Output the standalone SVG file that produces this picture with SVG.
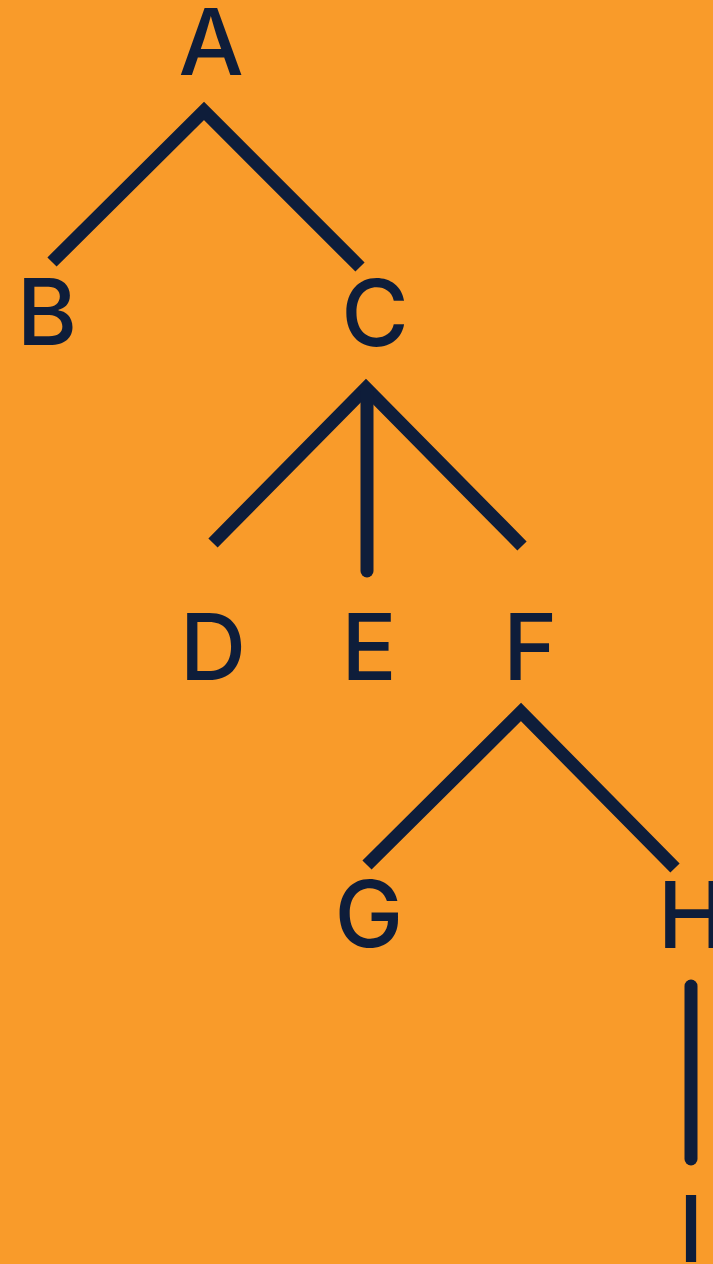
<svg xmlns="http://www.w3.org/2000/svg" width="713" height="1264" viewBox="0 0 713 1264">
<style>
.lbl{font-family:Inter,"Noto Sans","Liberation Sans",sans-serif;font-size:92px;font-weight:500;fill:#0E1D3A;text-anchor:middle}
.edge{fill:none;stroke:#0E1D3A;stroke-width:13;stroke-linejoin:miter;stroke-linecap:butt}
.stem{fill:none;stroke:#0E1D3A;stroke-width:13;stroke-linecap:round}
</style>
<rect width="713" height="1264" fill="#F99B2A"/>
<g id="connectors">
<polyline class="edge" points="52,262 204,111 360,267"/>
<polyline class="edge" points="213,543 366,388 522,546"/>
<line class="stem" x1="367" y1="392" x2="367" y2="571"/>
<polyline class="edge" points="367,865 521,712 675,868"/>
<line class="stem" x1="691" y1="986" x2="691" y2="1159"/>
</g>
<g id="node-A"><text class="lbl" x="211" y="75">A</text></g>
<g id="node-B"><text class="lbl" x="47" y="345">B</text></g>
<g id="node-C"><text class="lbl" x="375" y="346">C</text></g>
<g id="node-D"><text class="lbl" x="213" y="680">D</text></g>
<g id="node-E"><text class="lbl" x="369" y="680">E</text></g>
<g id="node-F"><text class="lbl" x="530" y="680">F</text></g>
<g id="node-G"><text class="lbl" x="369" y="947">G</text></g>
<g id="node-H"><text class="lbl" x="692" y="948">H</text></g>
<g id="node-I"><text class="lbl" x="691" y="1262">I</text></g>
</svg>
